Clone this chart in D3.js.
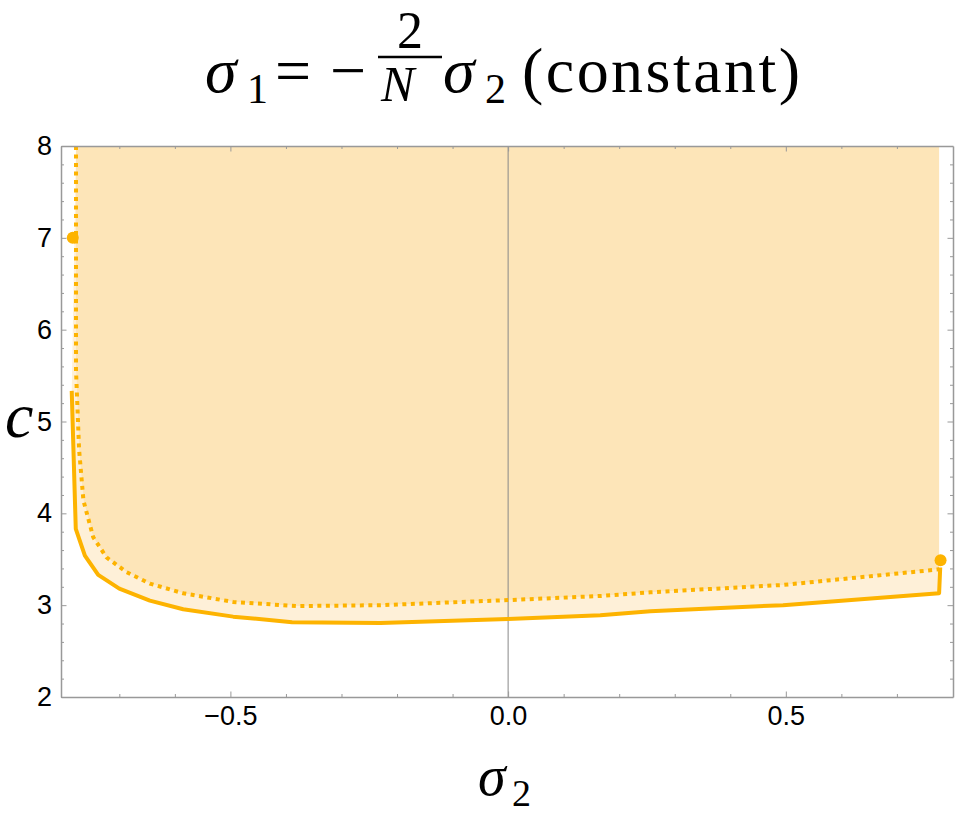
<!DOCTYPE html>
<html>
<head>
<meta charset="utf-8">
<script src="https://cdn.jsdelivr.net/npm/d3@7"></script>
<style>
  body { margin: 0; background: #fff; }
  .axis text { font-family: "Liberation Sans", Arial, sans-serif; font-size: 27px; fill: #000; }
  .axis line, .axis path { stroke: #999; }
  .math { font-family: "Liberation Serif", "DejaVu Serif", serif; fill: #000; }
</style>
</head>
<body>
<svg></svg>
<script>
// Chart size
let width = 955,
    height = 825;

// Solid boundary (sigma2, c)
let solidS2 = [-0.7857, -0.7784, -0.762, -0.738, -0.700, -0.645, -0.585, -0.495, -0.389, -0.230, 0.0, 0.166, 0.256, 0.495, 0.776, 0.778];
let solidC  = [5.334, 3.83, 3.54, 3.33, 3.18, 3.05, 2.955, 2.875, 2.815, 2.805, 2.85, 2.89, 2.935, 3.0, 3.13, 3.41];

// Dotted boundary (sigma2, c)
let dottedS2 = [-0.778, -0.778, -0.7724, -0.7646, -0.747, -0.723, -0.687, -0.645, -0.585, -0.495, -0.380, -0.230, 0.0, 0.166, 0.256, 0.495, 0.776];
let dottedC  = [8.0, 5.56, 4.69, 4.14, 3.74, 3.52, 3.36, 3.235, 3.13, 3.035, 2.99, 3.0, 3.055, 3.10, 3.14, 3.22, 3.39];

// End-point markers
let markS2 = [-0.7838, 0.7786];
let markC  = [7.0, 3.49];

// Ticks
let xMajor = [-0.5, 0.0, 0.5];
let xMinor = [-0.7, -0.6, -0.4, -0.3, -0.2, -0.1, 0.1, 0.2, 0.3, 0.4, 0.6, 0.7];
let yMajor = [2, 3, 4, 5, 6, 7, 8];
let yMinor = [2.2, 2.4, 2.6, 2.8, 3.2, 3.4, 3.6, 3.8, 4.2, 4.4, 4.6, 4.8,
              5.2, 5.4, 5.6, 5.8, 6.2, 6.4, 6.6, 6.8, 7.2, 7.4, 7.6, 7.8];

let orange = "#fdb300";

let svg = d3.select("svg")
    .attr("width", width)
    .attr("height", height);

let x = d3.scaleLinear().domain([-0.805, 0.801]).range([61, 953]);
let y = d3.scaleLinear().domain([2, 8]).range([697, 146]);

let solid = solidS2.map((s, i) => [s, solidC[i]]);
let dotted = dottedS2.map((s, i) => [s, dottedC[i]]);

let line = d3.line()
    .x(d => x(d[0]))
    .y(d => y(d[1]));

// Light band between the two boundaries
let band = solid.concat(dotted.slice().reverse());
svg.append("path")
    .attr("d", line(band) + "Z")
    .style("fill", "#fef0d8")
    .style("stroke", "none");

// Darker region above the dotted boundary
let upper = dotted.concat([[dottedS2[dottedS2.length - 1], 8]]);
svg.append("path")
    .attr("d", line(upper) + "Z")
    .style("fill", "#fde5b8")
    .style("stroke", "none");

// Zero line
svg.append("line")
    .attr("x1", x(0)).attr("x2", x(0))
    .attr("y1", y(2)).attr("y2", y(8))
    .style("stroke", "#888")
    .style("stroke-width", 1);

// Boundaries
svg.append("path")
    .attr("d", line(dotted))
    .style("fill", "none")
    .style("stroke", orange)
    .style("stroke-width", 4)
    .style("stroke-dasharray", "4 4.5");

svg.append("path")
    .attr("d", line(solid))
    .style("fill", "none")
    .style("stroke", orange)
    .style("stroke-width", 4)
    .style("stroke-linejoin", "round");

svg.selectAll("circle.mark")
    .data(markS2)
    .enter()
    .append("circle")
    .attr("class", "mark")
    .attr("cx", d => x(d))
    .attr("cy", (d, i) => y(markC[i]))
    .attr("r", 6)
    .style("fill", orange);

// Frame with inward ticks
function frameAxis(axisFn, scale, major, minor, tx, ty, labels) {
    let fmt = labels ? (scale === x ? d3.format(".1f") : d3.format("d")) : () => "";
    svg.append("g")
        .attr("class", "axis")
        .attr("transform", `translate(${tx},${ty})`)
        .call(axisFn(scale).tickValues(minor).tickSize(-3).tickSizeOuter(0).tickFormat(""))
        .call(g => g.select(".domain").remove());
    svg.append("g")
        .attr("class", "axis")
        .attr("transform", `translate(${tx},${ty})`)
        .call(axisFn(scale).tickValues(major).tickSize(-5.5).tickSizeOuter(0)
              .tickPadding(labels ? 9 : 0).tickFormat(fmt))
        .call(g => g.select(".domain").style("stroke-width", 1.5));
}

frameAxis(d3.axisBottom, x, xMajor, xMinor, 0, 697, true);
frameAxis(d3.axisTop, x, xMajor, xMinor, 0, 146, false);
frameAxis(d3.axisLeft, y, yMajor, yMinor, 61, 0, true);
frameAxis(d3.axisRight, y, yMajor, yMinor, 953, 0, false);

// Title: sigma_1 = -(2/N) sigma_2 (constant)
let title = svg.append("g").attr("class", "math");
title.append("text").attr("x", 205).attr("y", 92)
    .style("font-size", "64px").style("font-style", "italic").text("σ");
title.append("text").attr("x", 247).attr("y", 103)
    .style("font-size", "42px").text("1");
title.append("text").attr("x", 275).attr("y", 92)
    .attr("textLength", 42)
    .style("font-size", "64px").text("=");
title.append("text").attr("x", 330).attr("y", 92)
    .attr("textLength", 38)
    .style("font-size", "64px").text("−");
title.append("text").attr("x", 410).attr("y", 48)
    .attr("text-anchor", "middle")
    .style("font-size", "52px").text("2");
title.append("line")
    .attr("x1", 378).attr("x2", 442)
    .attr("y1", 57).attr("y2", 57)
    .style("stroke", "#000").style("stroke-width", 2.5);
title.append("text").attr("x", 381).attr("y", 101)
    .attr("textLength", 58)
    .style("font-size", "50px").style("font-style", "italic").text("N");
title.append("text").attr("x", 443).attr("y", 92)
    .style("font-size", "64px").style("font-style", "italic").text("σ");
title.append("text").attr("x", 485).attr("y", 103)
    .style("font-size", "42px").text("2");
title.append("text").attr("x", 522).attr("y", 92)
    .attr("textLength", 278)
    .style("font-size", "64px").text("(constant)");

// Axis labels
svg.append("text").attr("class", "math")
    .attr("x", 5).attr("y", 437)
    .style("font-size", "64px").style("font-style", "italic").text("c");
let xlab = svg.append("g").attr("class", "math");
xlab.append("text").attr("x", 478).attr("y", 795)
    .style("font-size", "56px").style("font-style", "italic").text("σ");
xlab.append("text").attr("x", 512).attr("y", 806)
    .style("font-size", "38px").text("2");
</script>
</body>
</html>
